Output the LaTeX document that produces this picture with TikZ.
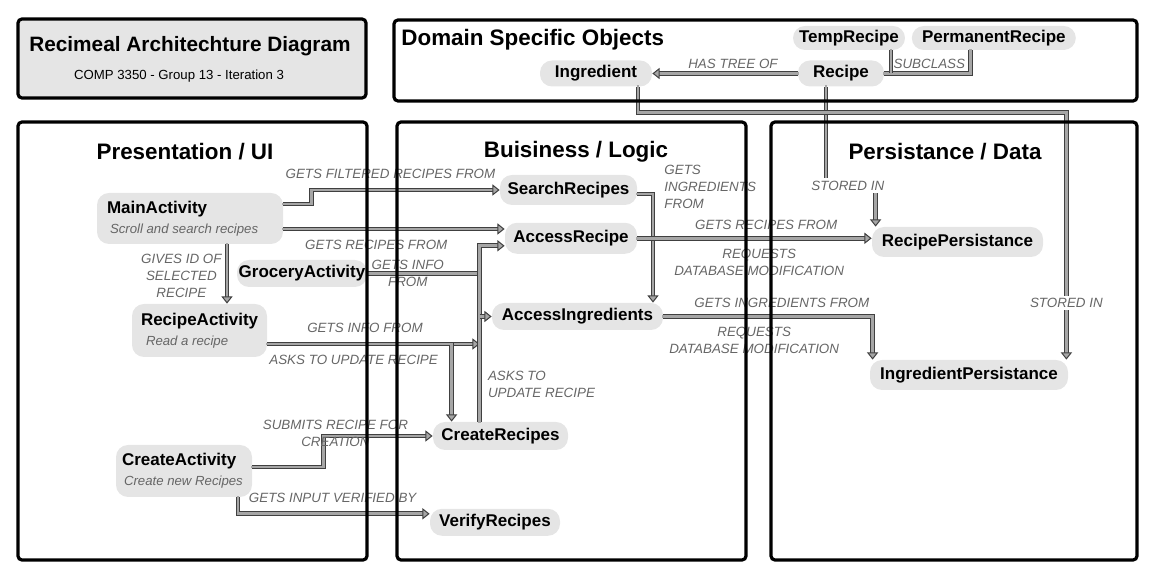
\documentclass[tikz,border=0pt]{standalone}
\usepackage{fontspec}
\setmainfont{Liberation Sans}
\usetikzlibrary{positioning,calc,arrows.meta}
\tikzstyle{panel} = [draw=black, line width=1.6pt, rounded corners=2pt]
\tikzstyle{heading} = [inner sep=0pt, font=\bfseries\fontsize{10.4}{12}\selectfont]
\tikzstyle{panelhead} = [inner sep=0pt, font=\bfseries\fontsize{11.2}{13}\selectfont]
\tikzstyle{obj} = [rectangle, rounded corners=6pt, fill=gray!20, inner sep=0pt, font=\bfseries\fontsize{8.5}{10}\selectfont]
\tikzstyle{act} = [obj, align=flush left, inner xsep=5pt]
\tikzstyle{lab} = [inner sep=1pt, text=black!60, font=\itshape\fontsize{6.7}{8.5}\selectfont]
\tikzstyle{link} = [draw=black!35, line width=1.4pt, line cap=rect, preaction={draw=black!75, line width=2.4pt}]
\tikzstyle{arrow} = [draw=black!35, line width=1.4pt, line cap=rect, -{Triangle[length=3.6pt,width=5.6pt,fill=black!35,color=black!75,line width=0.5pt]}, preaction={draw=black!75, line width=2.4pt, -, shorten >=3.4pt}]
\newcommand{\subtxt}[1]{{\normalfont\itshape\fontsize{6.6}{8}\selectfont\color{black!60}#1}}

\begin{document}
\begin{tikzpicture}[x=0.5pt, y=-0.5pt]
\useasboundingbox (0,0) rectangle (1152,576);

% Title

	\draw[panel, fill=gray!20] (18,19) rectangle (366,98);
	\node (title) [heading] at (190,46) {Recimeal Architechture Diagram};
	\node (subtitle) [font=\fontsize{6.6}{8}\selectfont] at (179,76) {COMP 3350 - Group 13 - Iteration 3};


% Domain objects

	\node (domain) [heading, anchor=west, font=\bfseries\fontsize{11.2}{13}\selectfont] at (401,40) {Domain Specific Objects};
	\node (temprec) [obj, minimum width=56pt, minimum height=12pt] at (849,38) {TempRecipe};
	\node (permrec) [obj, minimum width=82pt, minimum height=12pt, right=3pt of temprec] {PermanentRecipe};
	\node (ingredient) [obj, minimum width=56pt, minimum height=13pt] at (596,73.5) {Ingredient};
	\node (recipe) [obj, minimum width=43pt, minimum height=13pt] at (841,73.5) {Recipe};


% Presentation / UI

	\node (uihead) [panelhead] at (185,152) {Presentation / UI};
	\node (main) [act, text width=83pt, minimum height=25.5pt] at (190,218.5) {MainActivity\\\hspace{1.5pt}\subtxt{Scroll and search recipes}};
	\node (grocery) [obj, minimum width=65pt, minimum height=13.5pt] at (302,273.5) {GroceryActivity};
	\node (recipeact) [act, inner xsep=4.5pt, text width=58.5pt, minimum height=26.5pt] at (199.5,330.5) {RecipeActivity\\\hspace{2.5pt}\subtxt{Read a recipe}};
	\node (createact) [act, inner xsep=3pt, text width=62pt, minimum height=26pt] at (184,471) {CreateActivity\\\hspace{1pt}\subtxt{Create new Recipes}};


% Buisiness / Logic

	\node (logichead) [panelhead] at (576,152) {Buisiness / Logic};
	\node (search) [obj, minimum width=68.5pt, minimum height=15pt] at (568.5,190) {SearchRecipes};
	\node (accessrec) [obj, minimum width=66pt, minimum height=15.5pt, below=8.5pt of search, xshift=1.25pt] {AccessRecipe};
	\node (accessingr) [obj, minimum width=85.5pt, minimum height=13.5pt] at (577.5,316.5) {AccessIngredients};
	\node (createrec) [obj, minimum width=67.5pt, minimum height=14pt] at (500.5,436) {CreateRecipes};
	\node (verify) [obj, minimum width=65pt, minimum height=13.5pt, below=29pt of createrec, xshift=-2.75pt] {VerifyRecipes};
	\coordinate (cbus) at ($(createrec.north west)+(47,0)$);


% Persistance / Data

	\node (datahead) [panelhead] at (945,152) {Persistance / Data};
	\node (recipepers) [obj, minimum width=85.5pt, minimum height=15pt] at (957.5,242) {RecipePersistance};
	\node (ingrpers) [obj, minimum width=99pt, minimum height=15pt] at (969,375) {IngredientPersistance};


% Domain object arrows

	\draw [arrow] (recipe.west) -- node[lab, above=0.5pt, pos=0.445]{HAS TREE OF} (ingredient.east);
	\draw [link] (recipe.east) -| node[lab, above=0.5pt, pos=0.26]{SUBCLASS} ($(permrec.south)+(-23,0)$);
	\draw [link] ($(temprec.south)+(42,0)$) coordinate (t1) -- (t1 |- recipe.east);

	\draw [arrow] ($(recipe.south)+(-15,0)$) |- node[lab, fill=white, inner sep=1.5pt, pos=0.72]{STORED IN} ($(recipepers.north west)+(4,-41)$) -- ($(recipepers.north west)+(4,0)$);
	\draw [arrow] ($(ingredient.south)+(42,0)$) -- ++(0,26) -| node[lab, fill=white, pos=0.885]{STORED IN} ($(ingrpers.north east)+(-2,0)$);


% Presentation arrows

	\draw [arrow] ($(main.east)+(0,-14.5)$) -- ++(28,0) |- node[lab, above=4pt, pos=0.71]{GETS FILTERED RECIPES FROM} (search.west);
	\draw [arrow] ($(main.east)+(0,10.5)$) coordinate (m2) -- node[lab, below=4pt, pos=0.42]{GETS RECIPES FROM} (m2 -| accessrec.west);
	\draw [arrow] ($(main.south)+(37,0)$) coordinate (g1) -- node[lab, align=center, left=1pt, pos=0.54]{GIVES ID OF\\SELECTED\\RECIPE} (g1 |- recipeact.north);

	\draw [link] (grocery.east) -- node[lab, align=center, pos=0.36]{GETS INFO\\FROM} (grocery.east -| cbus);
	\draw [arrow] ($(recipeact.east)+(0,13.5)$) coordinate (r1) -- node[lab, above=4pt, pos=0.46]{GETS INFO FROM} (r1 -| cbus);
	\draw [arrow] (r1) -| node[lab, below=4pt, pos=0.234]{ASKS TO UPDATE RECIPE} ($(createrec.north west)+(19,0)$);

	\draw [arrow] ($(createact.east)+(0,-4)$) -- ++(71,0) |- node[lab, align=center, pos=0.555, yshift=1.25pt]{SUBMITS RECIPE FOR\\CREATION} (createrec.west);
	\draw [arrow] ($(createact.south)+(54,0)$) |- node[lab, above=4pt, pos=0.747]{GETS INPUT VERIFIED BY} ($(verify.west)+(0,-8.5)$);


% Logic arrows

	\draw [arrow] (cbus) |- node[lab, align=left, right=2.5pt, pos=0.106]{ASKS TO\\UPDATE RECIPE} ($(accessrec.west)+(0,7.5)$);
	\draw [arrow] (cbus |- accessingr.west) -- (accessingr.west);
	\draw [arrow] ($(search.east)+(0,4)$) -| node[lab, align=left, anchor=west, pos=0.5, xshift=4pt, yshift=3.5pt]{GETS\\INGREDIENTS\\FROM} ($(accessingr.north)+(75.5,0)$);

	\draw [arrow] (accessrec.east) -- node[lab, above=2.5pt, pos=0.55]{GETS RECIPES FROM} node[lab, align=center, below=3.5pt, pos=0.52]{REQUESTS\\DATABASE MODIFICATION} (accessrec.east -| recipepers.west);
	\draw [arrow] (accessingr.east) -| node[lab, above=2.5pt, pos=0.283]{GETS INGREDIENTS FROM} node[lab, align=center, below=3.5pt, pos=0.217]{REQUESTS\\DATABASE MODIFICATION} ($(ingrpers.north west)+(3,0)$);


% Panels on top

	\draw[panel] (394,20) rectangle (1137,101);
	\draw[panel] (18,122) rectangle (367,560);
	\draw[panel] (397,122) rectangle (746,560);
	\draw[panel] (771,122) rectangle (1137,560);

\end{tikzpicture}
\end{document}
